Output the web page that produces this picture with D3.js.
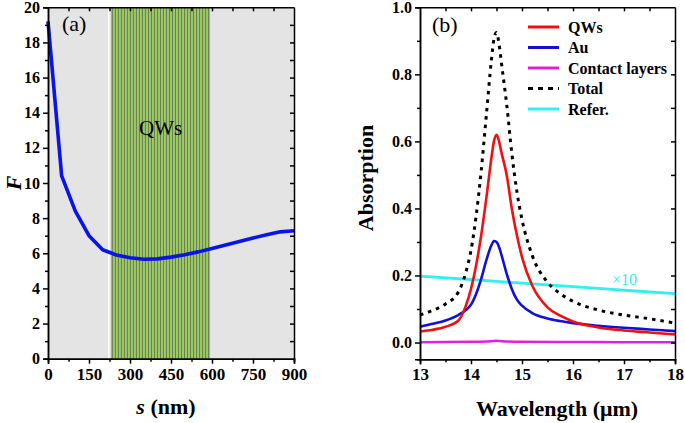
<!DOCTYPE html>
<html><head><meta charset="utf-8">
<script src="https://cdn.jsdelivr.net/npm/d3@7"></script>
<style>
body{margin:0;background:#fff}
svg{display:block}
svg text{font-family:"Liberation Serif","Times New Roman",serif !important}
</style>
</head><body>
<svg id="chart" width="685" height="423"></svg>
<script>
// ---------- Panel (a) data ----------
const sNm = [0,50,100,150,200,250,300,350,400,450,500,550,600,650,700,750,800,850,900];
const fValues = [19.2,10.4,8.4,7.0,6.2,5.9,5.75,5.66,5.68,5.78,5.92,6.08,6.27,6.47,6.67,6.87,7.05,7.22,7.28];
const qwRange = [230, 593];
const qwPeriods = 33;
const sTicks = [0,150,300,450,600,750,900];
const fTicks = [0,2,4,6,8,10,12,14,16,18,20];

// ---------- Panel (b) data ----------
const wavelength = [13.0,13.25,13.5,13.75,13.9,14.0,14.1,14.2,14.3,14.4,14.45,14.5,14.55,14.6,14.7,14.8,14.9,15.0,15.2,15.5,15.75,16.0,16.5,17.0,17.5,18.0];
const qwAbs    = [0.033,0.038,0.047,0.065,0.11,0.16,0.23,0.32,0.43,0.55,0.60,0.62,0.60,0.565,0.50,0.40,0.32,0.255,0.17,0.105,0.08,0.063,0.045,0.036,0.030,0.024];
const auAbs    = [0.047,0.056,0.066,0.082,0.097,0.113,0.145,0.19,0.245,0.29,0.303,0.30,0.285,0.26,0.205,0.16,0.128,0.11,0.088,0.072,0.064,0.058,0.050,0.044,0.039,0.034];
const totalAbs = [0.082,0.096,0.115,0.15,0.21,0.275,0.377,0.512,0.677,0.842,0.905,0.925,0.89,0.83,0.71,0.565,0.45,0.367,0.26,0.18,0.146,0.123,0.097,0.082,0.071,0.058];
const contactWl  = [13,14,14.3,14.5,14.7,15,16,17,18];
const contactAbs = [0.001,0.002,0.003,0.005,0.003,0.002,0.0015,0.001,0.001];
const referWl  = [13,14,15,16,17,18];
const referAbs = [0.198,0.188,0.177,0.167,0.156,0.146];
const wlTicks  = [13,14,15,16,17,18];
const absTicks = [0.0,0.2,0.4,0.6,0.8,1.0];
const legendNames  = ["QWs","Au","Contact layers","Total","Refer."];
const legendColors = ["#f01010","#1010d8","#e020e0","#000000","#30f0f0"];

const FONT = "'Liberation Serif','Times New Roman',serif";
const svg = d3.select("#chart");

function styleAxis(g){
  g.attr("font-family", FONT);
  g.selectAll("path.domain").attr("stroke","#000").attr("stroke-width",1.5);
  g.selectAll(".tick line").attr("stroke","#000").attr("stroke-width",1.5);
  g.selectAll(".tick text").attr("fill","#000").style("font-weight","bold").style("font-family",FONT);
  return g;
}

// ================= Panel (a) =================
const xA = d3.scaleLinear().domain([0,900]).range([48,294]);
const yA = d3.scaleLinear().domain([0,20]).range([358.7,7.3]);
const gA = svg.append("g");

gA.append("rect").attr("x",xA(0)).attr("y",yA(20))
  .attr("width",xA(900)-xA(0)).attr("height",yA(0)-yA(20)).attr("fill","#e4e4e4");

gA.append("line").attr("x1",xA(qwRange[0])-2).attr("x2",xA(qwRange[0])-2)
  .attr("y1",yA(20)).attr("y2",yA(0)).attr("stroke","#ffffff").attr("stroke-width",1.5);
gA.append("rect").attr("x",xA(qwRange[0])).attr("y",yA(20))
  .attr("width",xA(qwRange[1])-xA(qwRange[0])).attr("height",yA(0)-yA(20)).attr("fill","#9acb5e");
const period = (qwRange[1]-qwRange[0])/qwPeriods;
gA.selectAll("line.qw").data(d3.range(qwPeriods)).join("line")
  .attr("class","qw")
  .attr("x1",d=>xA(qwRange[0]+period*(d+0.5))).attr("x2",d=>xA(qwRange[0]+period*(d+0.5)))
  .attr("y1",yA(20)).attr("y2",yA(0)).attr("stroke","#6e7a62").attr("stroke-width",1);

gA.append("text").attr("x",xA(412)).attr("y",135).attr("text-anchor","middle")
  .attr("font-size",21).text("QWs");
gA.append("text").attr("x",62).attr("y",31).attr("font-size",22).text("(a)");

gA.append("path").datum(sNm.map((s,i)=>[s,fValues[i]]))
  .attr("fill","none").attr("stroke","#0a14e6").attr("stroke-width",3.6)
  .attr("stroke-linejoin","round")
  .attr("d",d3.line().x(d=>xA(d[0])).y(d=>yA(d[1])).curve(d3.curveLinear));

styleAxis(gA.append("g").attr("transform",`translate(0,${yA(0)})`)
  .call(d3.axisBottom(xA).tickValues(sTicks).tickSize(5).tickPadding(4).tickFormat(d3.format("d"))))
  .selectAll("text").attr("font-size",17);
styleAxis(gA.append("g").attr("transform",`translate(0,${yA(0)})`)
  .call(d3.axisBottom(xA).tickValues(d3.range(75,900,150)).tickSize(3).tickFormat("")));
styleAxis(gA.append("g").attr("transform",`translate(0,${yA(20)})`)
  .call(d3.axisTop(xA).tickValues(d3.range(75,900,75)).tickSizeInner(-4).tickSizeOuter(0).tickFormat("")));
styleAxis(gA.append("g").attr("transform",`translate(${xA(0)},0)`)
  .call(d3.axisLeft(yA).tickValues(fTicks).tickSize(5).tickPadding(3).tickFormat(d3.format("d"))))
  .selectAll("text").attr("font-size",16);
styleAxis(gA.append("g").attr("transform",`translate(${xA(0)},0)`)
  .call(d3.axisLeft(yA).tickValues(d3.range(1,20,2)).tickSize(3).tickFormat("")));
styleAxis(gA.append("g").attr("transform",`translate(${xA(900)},0)`)
  .call(d3.axisRight(yA).tickValues(d3.range(1,20,1)).tickSizeInner(-4).tickSizeOuter(0).tickFormat("")));

const sLab = gA.append("text").attr("x",166).attr("y",414).attr("text-anchor","middle")
  .attr("font-size",22).style("font-weight","bold");
sLab.append("tspan").style("font-style","italic").text("s");
sLab.append("tspan").text(" (nm)");
gA.append("text").attr("transform","translate(21,183) rotate(-90)").attr("text-anchor","middle")
  .attr("font-size",22).style("font-weight","bold").style("font-style","italic").text("F");

// ================= Panel (b) =================
const xB = d3.scaleLinear().domain([13,18]).range([420,675]);
const yB = d3.scaleLinear().domain([-0.05,1.0]).range([359.3,7.3]);
const gB = svg.append("g");
const lineB = d3.line().x(d=>xB(d[0])).y(d=>yB(d[1])).curve(d3.curveMonotoneX);

gB.append("path").datum(referWl.map((w,i)=>[w,referAbs[i]]))
  .attr("fill","none").attr("stroke",legendColors[4]).attr("stroke-width",2.8).attr("d",lineB);
gB.append("path").datum(contactWl.map((w,i)=>[w,contactAbs[i]]))
  .attr("fill","none").attr("stroke",legendColors[2]).attr("stroke-width",2.5).attr("d",lineB);
gB.append("path").datum(wavelength.map((w,i)=>[w,auAbs[i]]))
  .attr("fill","none").attr("stroke",legendColors[1]).attr("stroke-width",2.6).attr("d",lineB);
gB.append("path").datum(wavelength.map((w,i)=>[w,qwAbs[i]]))
  .attr("fill","none").attr("stroke",legendColors[0]).attr("stroke-width",2.6).attr("d",lineB);
gB.append("path").datum(wavelength.map((w,i)=>[w,totalAbs[i]]))
  .attr("fill","none").attr("stroke","#000").attr("stroke-width",3)
  .attr("stroke-dasharray","3.5,5").attr("d",lineB);

gB.append("text").attr("x",612).attr("y",285).attr("font-size",16)
  .attr("fill",legendColors[4]).text("×10");
gB.append("text").attr("x",432).attr("y",32).attr("font-size",22).text("(b)");

const leg = gB.selectAll("g.leg").data(legendNames).join("g").attr("class","leg")
  .attr("transform",(d,i)=>`translate(528,${27+i*20.5})`);
leg.append("line").attr("x1",0).attr("x2",31).attr("y1",0).attr("y2",0)
  .attr("stroke",(d,i)=>legendColors[i]).attr("stroke-width",3)
  .attr("stroke-dasharray",(d,i)=>i===3?"5,5":null);
leg.append("text").attr("x",40).attr("y",5.5).attr("font-size",16).style("font-weight","bold").text(d=>d);

styleAxis(gB.append("g").attr("transform",`translate(0,${yB(-0.05)})`)
  .call(d3.axisBottom(xB).tickValues(wlTicks).tickSize(5).tickPadding(4).tickFormat(d3.format("d"))))
  .selectAll("text").attr("font-size",17);
styleAxis(gB.append("g").attr("transform",`translate(0,${yB(-0.05)})`)
  .call(d3.axisBottom(xB).tickValues(d3.range(13.5,18,1)).tickSize(3).tickFormat("")));
styleAxis(gB.append("g").attr("transform",`translate(0,${yB(1)})`)
  .call(d3.axisTop(xB).tickValues(d3.range(13.5,18,0.5)).tickSizeInner(-4).tickSizeOuter(0).tickFormat("")));
styleAxis(gB.append("g").attr("transform",`translate(${xB(13)},0)`)
  .call(d3.axisLeft(yB).tickValues(absTicks).tickSize(5).tickPadding(3).tickFormat(d3.format(".1f"))))
  .selectAll("text").attr("font-size",16);
styleAxis(gB.append("g").attr("transform",`translate(${xB(13)},0)`)
  .call(d3.axisLeft(yB).tickValues([0.1,0.3,0.5,0.7,0.9]).tickSize(3).tickFormat("")));
styleAxis(gB.append("g").attr("transform",`translate(${xB(18)},0)`)
  .call(d3.axisRight(yB).tickValues(d3.range(0,1.0,0.1)).tickSizeInner(-4).tickSizeOuter(0).tickFormat("")));

gB.append("text").attr("x",557).attr("y",416).attr("text-anchor","middle")
  .attr("font-size",22).style("font-weight","bold").text("Wavelength (μm)");
gB.append("text").attr("transform","translate(373,178) rotate(-90)").attr("text-anchor","middle")
  .attr("font-size",22).style("font-weight","bold").text("Absorption");
</script>
</body></html>
